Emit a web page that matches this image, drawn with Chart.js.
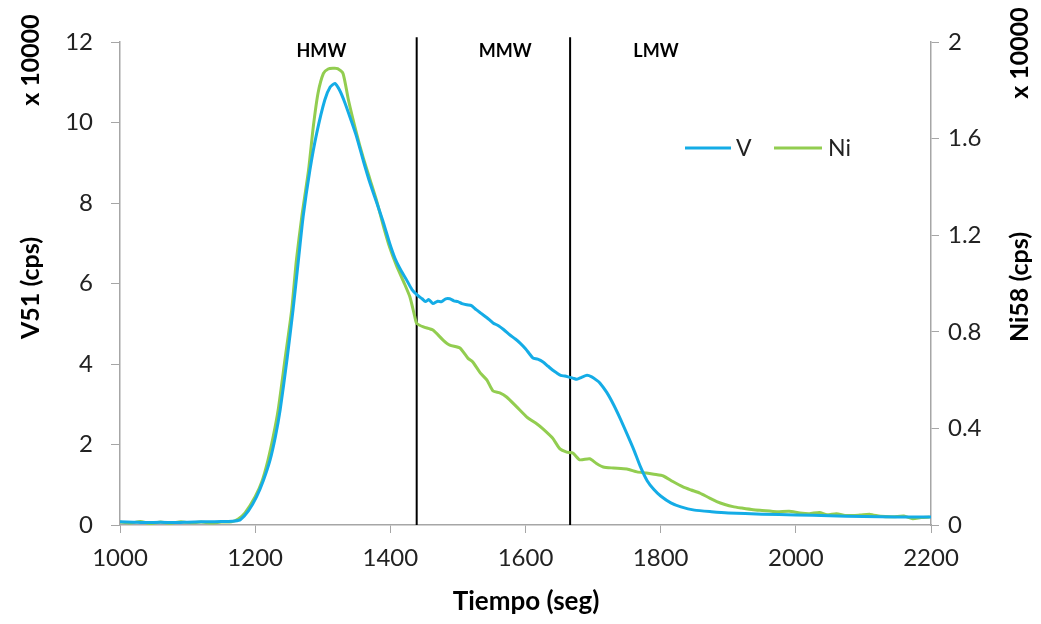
<!DOCTYPE html>
<html>
<head>
<meta charset="utf-8">
<script src="https://cdn.jsdelivr.net/npm/chart.js@4/dist/chart.umd.min.js"></script>
<style>
  body { margin: 0; background: #fff; }
  #wrap { width: 1041px; height: 624px; }
</style>
</head>
<body>
<div id="wrap"><canvas id="grafico" width="1041" height="624"></canvas></div>
<script>
// tiempos (seg) y valores de V51 (eje izq, x 10000)
const tiemposV = [1000,1020,1040,1060,1080,1100,1120,1140,1160,1170,1178,1190,1202,1212,1222,1230,1237,1247,1256,1264,1271,1281,1291,1303,1311,1318,1325,1333,1342,1350,1360,1370,1380,1390,1399,1407,1414,1424,1432,1440,1447,1452,1457,1463,1470,1476,1482,1488,1494,1500,1506,1513,1520,1527,1535,1543,1552,1560,1568,1577,1585,1592,1600,1606,1611,1618,1626,1633,1640,1646,1652,1658,1663,1670,1676,1683,1691,1698,1705,1710,1720,1730,1740,1750,1760,1770,1780,1790,1800,1815,1830,1850,1875,1900,1950,2000,2050,2100,2150,2200];
const valoresV = [0.08,0.07,0.06,0.07,0.06,0.07,0.08,0.08,0.09,0.1,0.13,0.35,0.7,1.1,1.61,2.2,2.86,4.1,5.34,6.58,7.66,8.82,9.73,10.56,10.88,10.97,10.8,10.48,10.05,9.65,9.05,8.49,8.0,7.5,7.0,6.62,6.38,6.09,5.85,5.71,5.62,5.55,5.6,5.5,5.56,5.55,5.62,5.62,5.57,5.55,5.5,5.47,5.45,5.35,5.25,5.15,5.02,4.95,4.85,4.72,4.62,4.52,4.38,4.25,4.15,4.12,4.05,3.95,3.85,3.78,3.72,3.7,3.68,3.65,3.62,3.67,3.72,3.68,3.6,3.53,3.3,3.0,2.65,2.27,1.88,1.45,1.1,0.88,0.72,0.55,0.45,0.37,0.33,0.3,0.27,0.25,0.23,0.21,0.2,0.2];

// tiempos (seg) y valores de Ni58 (eje der, x 10000)
const tiemposNi = [1000,1015,1030,1045,1060,1075,1090,1105,1120,1135,1150,1165,1175,1185,1200,1210,1219,1227,1234,1244,1254,1261,1269,1279,1286,1293,1301,1308,1315,1322,1330,1338,1350,1360,1370,1380,1390,1399,1409,1420,1429,1436,1439,1449,1463,1478,1488,1503,1515,1522,1533,1543,1552,1562,1572,1587,1602,1617,1625,1640,1651,1661,1670,1680,1695,1705,1715,1730,1750,1765,1779,1790,1804,1818,1833,1845,1858,1870,1883,1895,1907,1920,1937,1950,1972,1990,2006,2020,2035,2046,2060,2075,2095,2110,2125,2144,2160,2173,2185,2198];
const valoresNi = [0.012,0.008,0.014,0.006,0.012,0.007,0.013,0.009,0.012,0.008,0.012,0.013,0.025,0.05,0.117,0.18,0.269,0.37,0.476,0.683,0.89,1.097,1.277,1.47,1.649,1.788,1.87,1.888,1.891,1.89,1.87,1.76,1.622,1.52,1.43,1.34,1.235,1.15,1.075,1.005,0.944,0.865,0.835,0.82,0.807,0.766,0.745,0.733,0.69,0.675,0.63,0.6,0.555,0.547,0.53,0.489,0.447,0.418,0.4,0.36,0.315,0.302,0.298,0.27,0.274,0.255,0.24,0.236,0.232,0.22,0.215,0.21,0.203,0.18,0.158,0.145,0.132,0.115,0.097,0.085,0.076,0.07,0.063,0.06,0.055,0.057,0.05,0.047,0.052,0.042,0.047,0.039,0.041,0.044,0.036,0.034,0.037,0.026,0.031,0.033];

// limites de fracciones
const limites = [1439, 1666];
const fracciones = ['HMW', 'MMW', 'LMW'];
const posFracciones = [1298, 1570, 1793];

const ticksX = [1000, 1200, 1400, 1600, 1800, 2000, 2200];

const serieV = tiemposV.map((t, i) => ({ x: t, y: valoresV[i] }));
const serieNi = tiemposNi.map((t, i) => ({ x: t, y: valoresNi[i] }));

const azul = 'rgb(20,172,230)';
const verde = 'rgb(146,205,80)';
const gris = '#a6a6a6';
const letra = 'Lato, "Open Sans", sans-serif';

const datasets = [
  { label: 'V', data: serieV, borderColor: azul, borderWidth: 3, yAxisID: 'y', tension: 0.2 },
  { label: 'Ni', data: serieNi, borderColor: verde, borderWidth: 3, yAxisID: 'y1', tension: 0.2 }
];
limites.forEach(l => {
  datasets.push({ label: '', data: [{ x: l, y: 0 }, { x: l, y: 12.12 }], borderColor: '#000', borderWidth: 2, yAxisID: 'y', clip: false });
});

// textos extra: titulos de ejes, leyenda, fracciones
const textos = {
  id: 'textos',
  afterDraw(chart) {
    const c = chart.ctx;
    const sx = chart.scales.x, sy = chart.scales.y;
    c.save();
    c.fillStyle = '#000';
    c.textAlign = 'center';
    c.textBaseline = 'middle';

    c.font = 'bold 18px ' + letra;
    fracciones.forEach((f, i) => {
      c.fillText(f, sx.getPixelForValue(posFracciones[i]), sy.getPixelForValue(11.78));
    });

    c.font = 'bold 26px ' + letra;
    c.fillText('Tiempo (seg)', 526, 602);

    const vertical = (txt, x, y) => {
      c.save();
      c.translate(x, y);
      c.rotate(-Math.PI / 2);
      c.fillText(txt, 0, 0);
      c.restore();
    };
    c.font = 'bold 25px ' + letra;
    vertical('V51 (cps)', 31, 288);
    vertical('x 10000', 31, 60);
    vertical('Ni58 (cps)', 1020, 287);
    vertical('x 10000', 1020, 53);

    // leyenda
    c.lineWidth = 3;
    c.strokeStyle = azul;
    c.beginPath(); c.moveTo(685, 148); c.lineTo(731, 148); c.stroke();
    c.strokeStyle = verde;
    c.beginPath(); c.moveTo(774, 148); c.lineTo(822, 148); c.stroke();
    c.font = '23px ' + letra;
    c.fillStyle = '#222';
    c.textAlign = 'left';
    c.fillText('V', 736, 149);
    c.fillText('Ni', 828, 149);
    c.restore();
  }
};

const config = {
  type: 'line',
  data: { datasets: datasets },
  options: {
    responsive: false,
    animation: false,
    elements: { point: { radius: 0 } },
    layout: { padding: { top: 42, left: 0, right: 0, bottom: 0 } },
    plugins: { legend: { display: false }, tooltip: { enabled: false } },
    scales: {
      x: {
        type: 'linear',
        min: 1000, max: 2200,
        afterBuildTicks: s => { s.ticks = ticksX.map(v => ({ value: v })); },
        afterFit: s => { s.height = 99; },
        grid: { drawOnChartArea: false, drawTicks: true, tickLength: 8, color: gris },
        border: { color: gris, width: 1.5 },
        ticks: { color: '#222', font: { family: letra, size: 24 }, padding: 11, maxRotation: 0, callback: v => String(v) }
      },
      y: {
        position: 'left',
        min: 0, max: 12,
        afterFit: s => { s.width = 120; },
        grid: { drawOnChartArea: false, drawTicks: true, tickLength: 9, color: gris },
        border: { color: gris, width: 1.5 },
        ticks: { stepSize: 2, color: '#222', font: { family: letra, size: 24 }, padding: 18 }
      },
      y1: {
        position: 'right',
        min: 0, max: 2,
        afterFit: s => { s.width = 110; },
        grid: { drawOnChartArea: false, drawTicks: true, tickLength: 8, color: gris },
        border: { color: gris, width: 1.5 },
        ticks: { stepSize: 0.4, color: '#222', font: { family: letra, size: 24 }, padding: 9, callback: v => String(+v.toFixed(1)) }
      }
    }
  },
  plugins: [textos]
};

const grafico = new Chart(document.getElementById('grafico').getContext('2d'), config);
</script>
</body>
</html>
